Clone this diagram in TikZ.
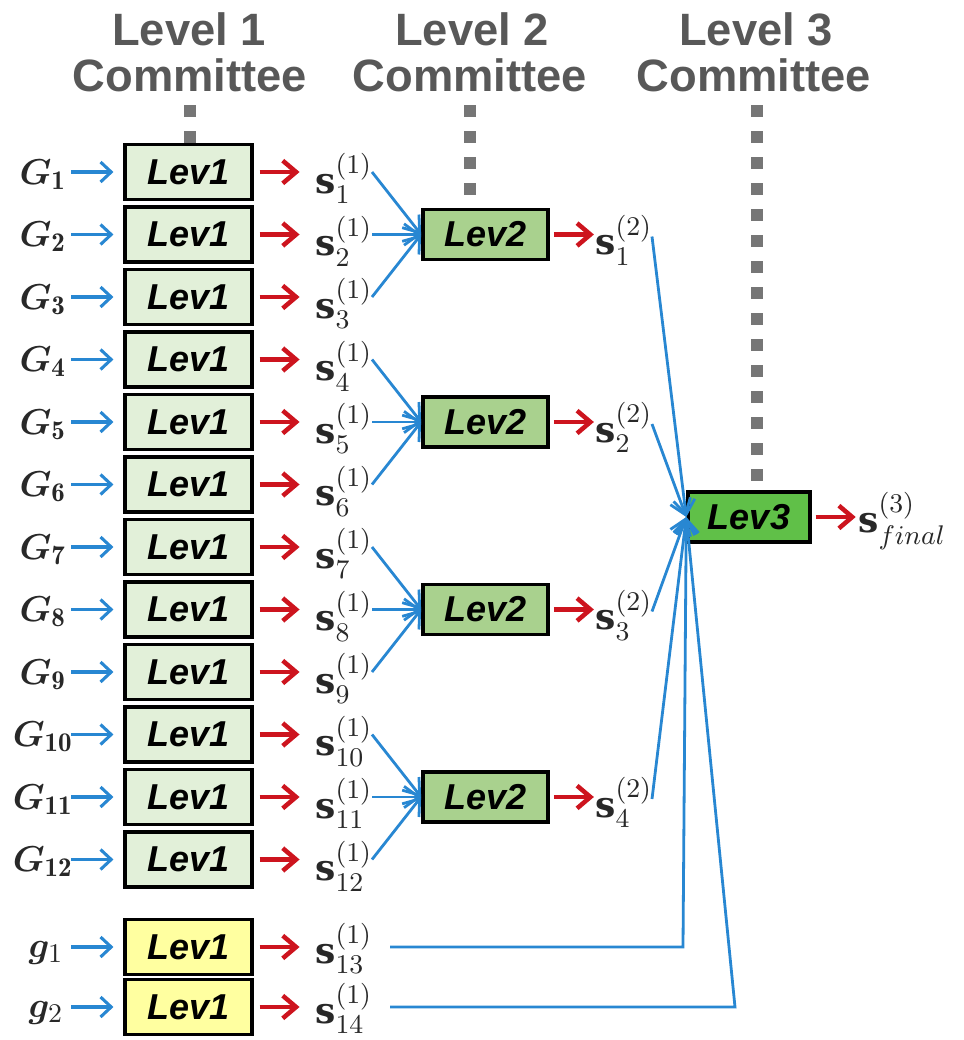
\RequirePackage{fix-cm}
\documentclass[tikz,border=0pt]{standalone}
\usepackage{amsmath,bm}
\usepackage{fontspec}
\newfontfamily\hdfont{Liberation Sans}
\newfontfamily\scorefont{DejaVu Serif}
\usetikzlibrary{arrows.meta,calc}
% larger indices for the symbol labels
\DeclareMathSizes{12}{12}{9}{7}
\definecolor{hdgray}{RGB}{88,88,88}
\definecolor{dotgray}{RGB}{118,118,118}
\definecolor{lvone}{RGB}{226,240,217}
\definecolor{lvtwo}{RGB}{169,209,142}
\definecolor{lvthree}{RGB}{96,192,72}
\definecolor{lvyel}{RGB}{255,255,160}
\definecolor{ablue}{RGB}{40,135,210}
\definecolor{ared}{RGB}{205,20,30}
\definecolor{txt}{RGB}{40,40,40}

% input symbol (G_i, g_i) and score symbol (s with level and index)
\newcommand\labG[1]{\scalebox{2.25}{$#1$}}
\newcommand\labS[2]{\scalebox{2.25}{$\mbox{\scorefont\bfseries s}^{(#1)}_{#2}$}}

\begin{document}
\begin{tikzpicture}[x=0.75pt,y=-0.75pt,
  hdr/.style={font=\hdfont\bfseries\fontsize{34}{36}\selectfont, text=hdgray, inner sep=0pt},
  dots/.style={draw=dotgray, line width=9pt, dash pattern=on 9pt off 10.5pt},
  committee/.style={draw=black, line width=2.6pt, inner sep=0pt,
    font=\hdfont\bfseries\itshape\fontsize{27}{27}\selectfont},
  levone/.style={committee, fill=lvone, minimum width=95pt, minimum height=41pt},
  levyel/.style={levone, fill=lvyel},
  levtwo/.style={committee, fill=lvtwo, minimum width=94pt, minimum height=37.5pt},
  levthree/.style={committee, fill=lvthree, minimum width=91.5pt, minimum height=37.5pt},
  inlab/.style={font=\fontsize{12}{12}\selectfont, text=txt, anchor=base, inner sep=0pt},
  slab/.style={font=\fontsize{12}{12}\selectfont, text=txt, anchor=base west, inner sep=0pt},
  bluearrow/.style={draw=ablue, line width=2.3pt,
    -{Straight Barb[length=8pt,width=15pt]}},
  redarrow/.style={draw=ared, line width=3.4pt,
    -{Straight Barb[length=10pt,width=17pt]}},
  feed/.style={draw=ablue, line width=2.1pt,
    -{Straight Barb[length=11pt,width=16pt]}}
]
\useasboundingbox (0,0) rectangle (964,1040);

% column headings
\node[hdr] (h1a) at (189,29) {Level 1};
\node[hdr] (h1b) at (190,75) {Committee};
\node[hdr] (h2a) at (472,29) {Level 2};
\node[hdr] (h2b) at (470,75) {Committee};
\node[hdr] (h3a) at (756,29) {Level 3};
\node[hdr] (h3b) at (754,75) {Committee};

% dotted leaders under the headings
\draw[dots] (190,105) -- (190,143);
\draw[dots] (470,105) -- (470,195);
\draw[dots] (757,105) -- (757,481);

% level-1 committees fed by the G inputs
\foreach \i in {1,...,12} {
  \pgfmathsetmacro\yy{172+62.5*(\i-1)}
  \node[levone] (b\i) at (188.5,\yy) {Lev1};
  \node[inlab] (G\i) at (43,\yy+12) {\labG{\bm{G}_{\mathbf{\i}}}};
  \node[slab] (s\i) at (315,\yy+21) {\labS{1}{\i}};
  \coordinate (t\i) at (372,\yy);
  \draw[bluearrow] ($(b\i.west)+(-52,0)$) -- ($(b\i.west)+(-10,0)$);
  \draw[redarrow] ($(b\i.east)+(6,0)$) -- ($(b\i.east)+(46,0)$);
}

% level-1 committees fed by the g inputs
\foreach \i/\k/\yy in {13/1/947,14/2/1007} {
  \node[levyel] (b\i) at (188.5,\yy) {Lev1};
  \node[inlab] (g\k) at (46,\yy+10) {\labG{\bm{g}_{\k}}};
  \node[slab] (s\i) at (315,\yy+16) {\labS{1}{\i}};
  \coordinate (t\i) at (390,\yy);
  \draw[bluearrow] ($(b\i.west)+(-52,0)$) -- ($(b\i.west)+(-10,0)$);
  \draw[redarrow] ($(b\i.east)+(6,0)$) -- ($(b\i.east)+(46,0)$);
}

% level-3 committee
\node[levthree] (l3) at (749,517) {Lev3};
\node[slab] (sfin) at (858,532) {\labS{3}{final}};
\draw[redarrow] ($(l3.east)+(4,0)$) -- ($(l3.east)+(44,0)$);

% level-2 committees, each merging three level-1 scores
\foreach \j/\a/\b/\c in {1/1/2/3,2/4/5/6,3/7/8/9,4/10/11/12} {
  \pgfmathsetmacro\yy{172+62.5*(\b-1)}
  \node[levtwo] (m\j) at (485.5,\yy) {Lev2};
  \node[slab] (u\j) at (595,\yy+20) {\labS{2}{\j}};
  \coordinate (v\j) at (652,\yy+2);
  \draw[redarrow] ($(m\j.east)+(4,0)$) -- ($(m\j.east)+(44,0)$);
  \draw[feed] (t\a) -- (m\j.west);
  \draw[feed] (t\b) -- (m\j.west);
  \draw[feed] (t\c) -- (m\j.west);
  \draw[feed] (v\j) -- (l3.west);
}

% the two g scores go straight to level 3
\coordinate (c13) at (683,947);
\coordinate (c14) at (735,1007);
\draw[feed] (t13) -- (c13) -- (l3.west);
\draw[feed] (t14) -- (c14) -- (l3.west);
\end{tikzpicture}
\end{document}
